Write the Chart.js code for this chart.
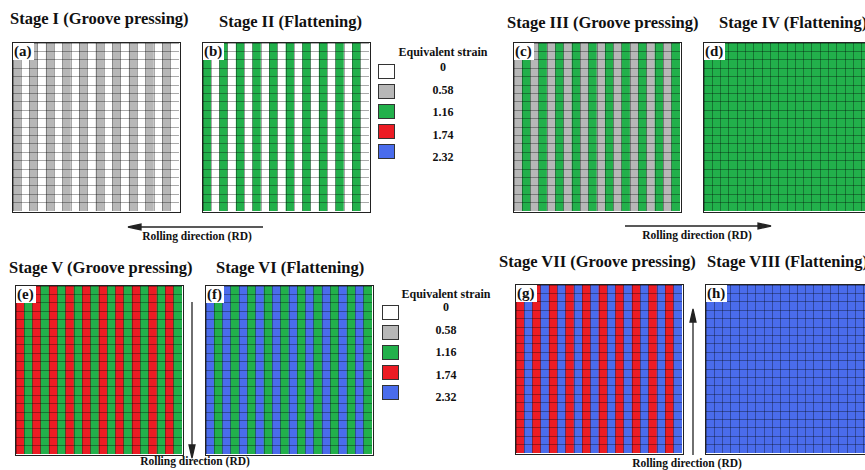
<!DOCTYPE html>
<html>
<head>
<meta charset="utf-8">
<script src="https://cdn.jsdelivr.net/npm/chart.js@4.4.1/dist/chart.umd.min.js"></script>
<style>
  html, body { margin: 0; padding: 0; background: #fff; }
  body {
    width: 865px; height: 470px; position: relative; overflow: hidden;
    font-family: 'Liberation Serif', 'Times New Roman', serif; font-weight: bold; color: #111;
  }
  .title { position: absolute; font-size: 16.5px; line-height: 19px; white-space: nowrap; }
  .panel { position: absolute; width: 169px; height: 171px; box-sizing: border-box; border: 1.5px solid #222; }
  .panel canvas { position: absolute; left: 0; top: 0; }
  .tag { position: absolute; left: 0; top: 0; background: #fff; font-size: 15px; line-height: 17px; padding: 0 2px 0 1px; }
  .lg-title, .lg-label { position: absolute; font-size: 12px; line-height: 14px; white-space: nowrap; text-align: center; width: 100px; }
  .lg-box { position: absolute; width: 17px; height: 15px; box-sizing: border-box; border: 1.5px solid #333; }
  .rd { position: absolute; font-size: 11.5px; line-height: 13px; white-space: nowrap; text-align: center; width: 140px; }
  svg { position: absolute; left: 0; top: 0; }
</style>
</head>
<body>
<svg width="865" height="470">
  <g stroke="#222" stroke-width="1.3" fill="#222">
    <line x1="138" y1="227" x2="263" y2="227"/>
    <polygon points="128,227 141,224 141,230"/>
    <line x1="625" y1="226" x2="760" y2="226"/>
    <polygon points="771,226 758,223 758,229"/>
    <line x1="192" y1="302" x2="192" y2="447"/>
    <polygon points="192,458 189,445 195,445"/>
    <line x1="693" y1="455" x2="693" y2="320"/>
    <polygon points="693,309 690,322 696,322"/>
  </g>
</svg>
<script>
// Strain scale
const strainLevels = [0, 0.58, 1.16, 1.74, 2.32]
const strainLabels = ['0', '0.58', '1.16', '1.74', '2.32']
const strainColors = ['#ffffff', '#b7b7b7', '#22b04b', '#ec1c24', '#4a6cec']

// Grid: 20 columns x 20 rows of elements
const columnLabels = ['1', '2', '3', '4', '5', '6', '7', '8', '9', '10',
  '11', '12', '13', '14', '15', '16', '17', '18', '19', '20']
const gridRows = 20

// Equivalent strain of each column, left to right
const stageI = [0.58, 0, 0.58, 0, 0.58, 0, 0.58, 0, 0.58, 0, 0.58, 0, 0.58, 0, 0.58, 0, 0.58, 0, 0.58, 0]
const stageII = [1.16, 0, 1.16, 0, 1.16, 0, 1.16, 0, 1.16, 0, 1.16, 0, 1.16, 0, 1.16, 0, 1.16, 0, 1.16, 0]
const stageIII = [0.58, 1.16, 0.58, 1.16, 0.58, 1.16, 0.58, 1.16, 0.58, 1.16, 0.58, 1.16, 0.58, 1.16, 0.58, 1.16, 0.58, 1.16, 0.58, 1.16]
const stageIV = [1.16, 1.16, 1.16, 1.16, 1.16, 1.16, 1.16, 1.16, 1.16, 1.16, 1.16, 1.16, 1.16, 1.16, 1.16, 1.16, 1.16, 1.16, 1.16, 1.16]
const stageV = [1.74, 1.16, 1.74, 1.16, 1.74, 1.16, 1.74, 1.16, 1.74, 1.16, 1.74, 1.16, 1.74, 1.16, 1.74, 1.16, 1.74, 1.16, 1.74, 1.16]
const stageVI = [2.32, 1.16, 2.32, 1.16, 2.32, 1.16, 2.32, 1.16, 2.32, 1.16, 2.32, 1.16, 2.32, 1.16, 2.32, 1.16, 2.32, 1.16, 2.32, 1.16]
const stageVII = [1.74, 2.32, 1.74, 2.32, 1.74, 2.32, 1.74, 2.32, 1.74, 2.32, 1.74, 2.32, 1.74, 2.32, 1.74, 2.32, 1.74, 2.32, 1.74, 2.32]
const stageVIII = [2.32, 2.32, 2.32, 2.32, 2.32, 2.32, 2.32, 2.32, 2.32, 2.32, 2.32, 2.32, 2.32, 2.32, 2.32, 2.32, 2.32, 2.32, 2.32, 2.32]

const stageTitles = ['Stage I (Groove pressing)', 'Stage II (Flattening)', 'Stage III (Groove pressing)', 'Stage IV (Flattening)',
  'Stage V (Groove pressing)', 'Stage VI (Flattening)', 'Stage VII (Groove pressing)', 'Stage VIII (Flattening)']
const panelTags = ['(a)', '(b)', '(c)', '(d)', '(e)', '(f)', '(g)', '(h)']
const stageStrains = [stageI, stageII, stageIII, stageIV, stageV, stageVI, stageVII, stageVIII]

// Layout
const panelPos = [[12, 42], [202, 42], [513, 42], [703, 42], [15, 285], [205, 285], [515, 284], [705, 284]]
const titlePos = [[10, 9], [219, 12], [507, 13], [719, 13], [9, 258], [216, 258], [499, 252], [707, 252]]

function addEl(cls, text, left, top) {
  const el = document.createElement('div')
  el.className = cls
  if (text !== null) el.textContent = text
  el.style.left = left + 'px'
  el.style.top = top + 'px'
  document.body.appendChild(el)
  return el
}

/*--------------------------------------------
  Strain panels
---------------------------------------------*/
const gridStyle = { z: 1, color: 'rgba(0,0,0,0.42)', lineWidth: 0.8, drawTicks: false }

stageStrains.forEach((strains, p) => {
  addEl('title', stageTitles[p], titlePos[p][0], titlePos[p][1])

  const wrap = addEl('panel', null, panelPos[p][0], panelPos[p][1])
  const canvas = document.createElement('canvas')
  canvas.width = 166
  canvas.height = 168
  wrap.appendChild(canvas)
  const tag = document.createElement('div')
  tag.className = 'tag'
  tag.textContent = panelTags[p]
  wrap.appendChild(tag)

  new Chart(canvas, {
    type: 'bar',
    data: {
      labels: columnLabels,
      datasets: [
        {
          data: strains.map(() => gridRows),
          backgroundColor: strains.map((s) => strainColors[strainLevels.indexOf(s)]),
          borderWidth: 0,
          barPercentage: 1,
          categoryPercentage: 1,
        },
      ],
    },
    options: {
      responsive: false,
      animation: false,
      layout: { padding: 0 },
      plugins: { legend: { display: false }, tooltip: { enabled: false } },
      scales: {
        x: {
          ticks: { display: false },
          border: { display: false },
          grid: { ...gridStyle, offset: true },
        },
        y: {
          min: 0,
          max: gridRows,
          ticks: { display: false, stepSize: 1 },
          border: { display: false },
          grid: gridStyle,
        },
      },
    },
  })
})

/*--------------------------------------------
  Equivalent strain legends
---------------------------------------------*/
function buildLegend(boxX, boxTop, centerX, titleTop, labelTop) {
  addEl('lg-title', 'Equivalent strain', centerX - 50, titleTop)
  strainLevels.forEach((v, i) => {
    const box = addEl('lg-box', null, boxX, boxTop + i * 20)
    box.style.background = strainColors[i]
    addEl('lg-label', strainLabels[i], centerX - 50, labelTop + i * 22.5)
  })
}
buildLegend(378, 64, 443, 45, 60)
buildLegend(382, 305, 446, 287, 300)

// Rolling direction captions
addEl('rd', 'Rolling direction (RD)', 197 - 70, 230)
addEl('rd', 'Rolling direction (RD)', 697 - 70, 229)
addEl('rd', 'Rolling direction (RD)', 195 - 70, 455)
addEl('rd', 'Rolling direction (RD)', 687 - 70, 457)
</script>
</body>
</html>
